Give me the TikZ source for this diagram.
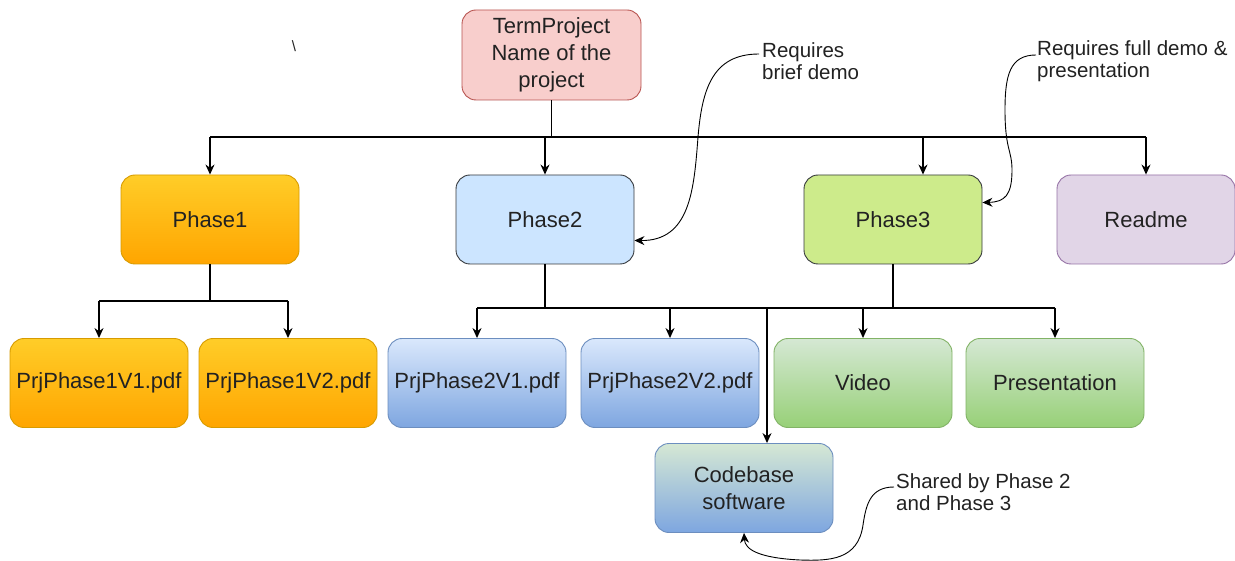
\documentclass[tikz,border=0pt]{standalone}
\usepackage{fontspec}
\setmainfont{Liberation Sans}
\usetikzlibrary{arrows.meta}
\definecolor{txt}{HTML}{222222}
\definecolor{tpfill}{HTML}{F8CECC}\definecolor{tpdraw}{HTML}{B85450}
\definecolor{orA}{HTML}{FFCD28}\definecolor{orB}{HTML}{FFA500}\definecolor{ordraw}{HTML}{D79B00}
\definecolor{p2fill}{HTML}{CCE5FF}\definecolor{dk}{HTML}{36393D}
\definecolor{p3fill}{HTML}{CDEB8B}
\definecolor{rdfill}{HTML}{E1D5E7}\definecolor{rddraw}{HTML}{9673A6}
\definecolor{blA}{HTML}{DAE8FC}\definecolor{blB}{HTML}{7EA6E0}\definecolor{bldraw}{HTML}{6C8EBF}
\definecolor{grA}{HTML}{D5E8D4}\definecolor{grB}{HTML}{97D077}\definecolor{grdraw}{HTML}{82B366}
\tikzset{
  box/.style={rounded corners=14pt, minimum width=178pt, minimum height=89pt, inner sep=0pt,
    align=center, text=txt, font=\fontsize{22}{27}\selectfont, line width=0.9pt},
  orbox/.style={box, draw=ordraw, top color=orA, bottom color=orB},
  blbox/.style={box, draw=bldraw, top color=blA, bottom color=blB},
  grbox/.style={box, draw=grdraw, top color=grA, bottom color=grB},
  arr/.style={-{Stealth[length=10pt,width=9pt]}, line width=1.1pt},
  ln/.style={line width=1.1pt},
  note/.style={align=left, text=txt, font=\fontsize{20.5}{22}\selectfont, inner sep=0pt, anchor=west},
  curv/.style={-{Stealth[length=10pt,width=9pt]}, line width=0.9pt},
}
\begin{document}
\begin{tikzpicture}[x=1pt,y=-1pt]
\useasboundingbox (0,0) rectangle (1235,561);
\fill[white] (0,0) rectangle (1235,561);

% nodes
\node[box, draw=tpdraw, fill=tpfill, minimum width=179pt, minimum height=90pt] (tp) at (551.5,55) {TermProject\\Name of the\\project};
\node[orbox] (ph1) at (210,219.5) {Phase1};
\node[box, draw=dk, fill=p2fill] (ph2) at (545,219.5) {Phase2};
\node[box, draw=dk, fill=p3fill] (ph3) at (893,219.5) {Phase3};
\node[box, draw=rddraw, fill=rdfill] (rd) at (1146,219.5) {Readme};

\node[orbox] (p1a) at (99,383) {PrjPhase1V1.pdf};
\node[orbox] (p1b) at (288,383) {PrjPhase1V2.pdf};
\node[blbox] (p2a) at (477,383) {PrjPhase2V1.pdf};
\node[blbox] (p2b) at (670,383) {PrjPhase2V2.pdf};
\node[grbox] (vid) at (863,383) {Video};
\node[grbox] (pres) at (1055,383) {Presentation};
\node[box, draw=bldraw, top color=grA, bottom color=blB] (code) at (744,488) {Codebase\\software};

\node[text=txt, font=\fontsize{15}{15}\selectfont, inner sep=0pt] (bs) at (294,46) {\textbackslash};

% annotations
\node[note] (n1) at (762,61) {Requires\\brief demo};
\node[note] (n2) at (1037,61) {Requires full demo \&\\presentation};
\node[note] (n3) at (896,492) {Shared by Phase 2\\and Phase 3};

% top bus
\coordinate (busA) at (0,137);
\draw[ln] (tp.south) -- (tp.south |- busA);
\draw[ln] (ph1.north |- busA) -- (rd.north |- busA);
\draw[arr] (ph1.north |- busA) -- (ph1.north);
\draw[arr] (ph2.north |- busA) -- (ph2.north);
\draw[arr] ([xshift=30pt]ph3.north |- busA) -- ([xshift=30pt]ph3.north);
\draw[arr] (rd.north |- busA) -- (rd.north);

% phase1 children
\coordinate (busB) at (0,301);
\draw[ln] (ph1.south) -- (ph1.south |- busB);
\draw[ln] (p1a.north |- busB) -- (p1b.north |- busB);
\draw[arr] (p1a.north |- busB) -- (p1a.north);
\draw[arr] (p1b.north |- busB) -- (p1b.north);

% phase2/3 children
\coordinate (busC) at (0,308);
\draw[ln] (ph2.south) -- (ph2.south |- busC);
\draw[ln] (ph3.south) -- (ph3.south |- busC);
\draw[ln] (p2a.north |- busC) -- (pres.north |- busC);
\draw[arr] (p2a.north |- busC) -- (p2a.north);
\draw[arr] (p2b.north |- busC) -- (p2b.north);
\draw[arr] (vid.north |- busC) -- (vid.north);
\draw[arr] (pres.north |- busC) -- (pres.north);
\draw[arr] ([xshift=23pt]code.north |- busC) -- ([xshift=23pt]code.north);

% curved annotation connectors
\coordinate (c1) at (759,54);
\draw[curv] (c1) .. controls (712,54) and (702,90) .. (698,137)
  .. controls (694,190) and (690,241) .. ([yshift=-21pt]ph2.east);
\coordinate (c2) at (1036,55);
\draw[curv] (c2) .. controls (1010,55) and (1005,75) .. (1005,110)
  .. controls (1005,150) and (1012,150) .. (1012,170)
  .. controls (1012,195) and (1005,202) .. ([yshift=17pt]ph3.east);
\coordinate (c3) at (894,487);
\draw[curv] (c3) .. controls (870,487) and (866,505) .. (863,525)
  .. controls (858,560) and (830,561) .. (800,560)
  .. controls (760,558) and (745,550) .. (code.south);
\end{tikzpicture}
\end{document}
